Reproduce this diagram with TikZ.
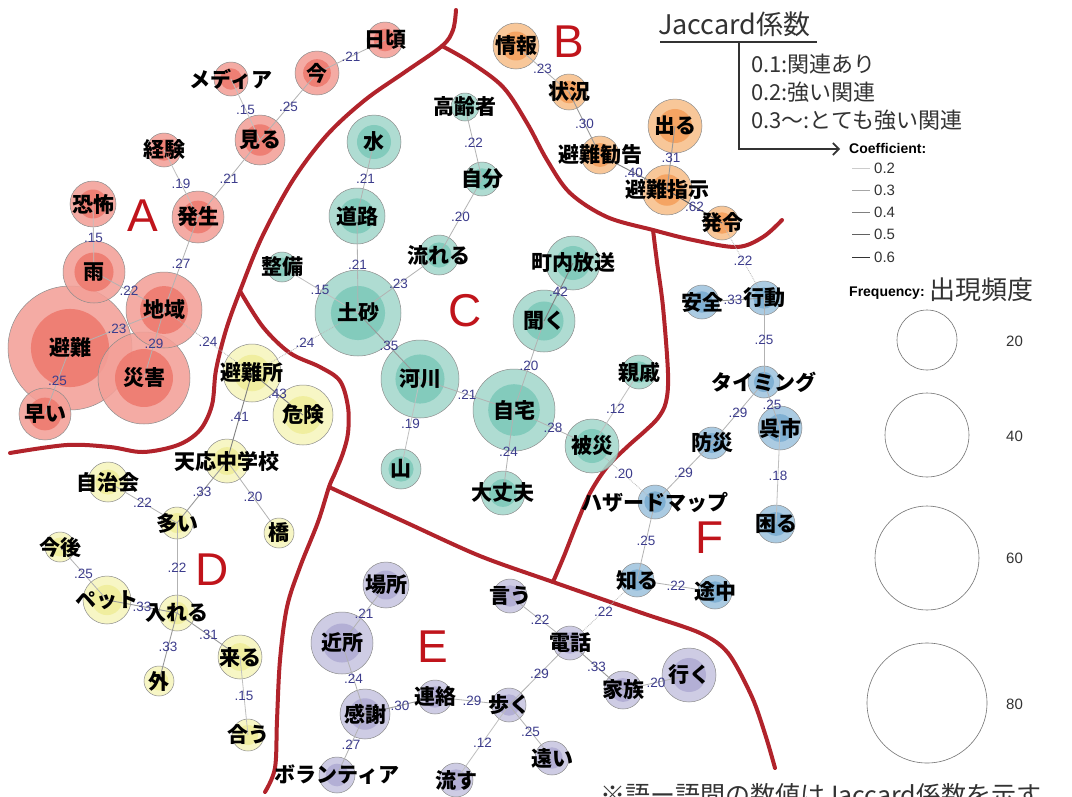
\documentclass[tikz,border=0pt]{standalone}
\usepackage{fontspec}
\setmainfont{Noto Sans CJK JP}
\newfontfamily\lsans{Liberation Sans}
\usetikzlibrary{arrows.meta}
\pgfdeclarelayer{fg}
\pgfsetlayers{main,fg}
\definecolor{Ao}{HTML}{F3A098}\definecolor{Ai}{HTML}{EE7A6E}
\definecolor{Bo}{HTML}{F8C08C}\definecolor{Bi}{HTML}{F5A05C}
\definecolor{Co}{HTML}{A4D8CC}\definecolor{Ci}{HTML}{7DC9BA}
\definecolor{Do}{HTML}{F6F5BE}\definecolor{Di}{HTML}{F0EE9A}
\definecolor{Eo}{HTML}{C8C6E1}\definecolor{Ei}{HTML}{B0ACD4}
\definecolor{Fo}{HTML}{A0C4DE}\definecolor{Fi}{HTML}{7BADD1}
\definecolor{bound}{HTML}{B1232B}
\definecolor{clet}{HTML}{C0141B}
\definecolor{elc}{HTML}{3C3C8C}
\definecolor{dk}{HTML}{333333}
\tikzset{
  bubble/.style={circle, draw=black!45, line width=0.5pt, fill=#1o, fill opacity=0.88, inner sep=0pt},
  wlab/.style={font=\fontsize{21}{21}\selectfont\bfseries, inner sep=0pt, text=black},
  el/.style={font=\lsans\fontsize{13.5}{13.5}\selectfont, text=elc, inner sep=0pt},
  wa/.style={draw=black!25, line width=0.8pt},
  wb/.style={draw=black!30, line width=0.8pt},
  wc/.style={draw=black!40, line width=0.9pt},
  wd/.style={draw=black!50, line width=0.9pt},
  wf/.style={draw=black!64, line width=1pt},
  wx/.style={draw=black!28, line width=0.8pt, densely dotted},
  bnd/.style={draw=bound, line width=4pt, line cap=round, line join=round},
  clusterlet/.style={font=\lsans\fontsize{46}{46}\selectfont, text=clet, inner sep=0pt},
  legtxt/.style={font=\fontsize{22}{22}\selectfont, text=dk, inner sep=0pt, anchor=west},
  legsmall/.style={font=\lsans\fontsize{15}{15}\selectfont, text=dk, inner sep=0pt, anchor=west},
  legbold/.style={font=\lsans\bfseries\fontsize{14}{14}\selectfont, text=black, inner sep=0pt, anchor=west},
  freqc/.style={circle, draw=black!55, line width=0.6pt, inner sep=0pt},
}
\newcommand\bub[6]{%
  \node[bubble=#5, minimum size={2*#4pt},
        path picture={\fill[#5i] (path picture bounding box.center) circle[radius={0.63*#4pt}];}]
        (#1) at (#2,#3) {};
  \begin{pgfonlayer}{fg}\node[wlab] (#1t) at (#2,#3) {#6};\end{pgfonlayer}}
\newcommand\ed[4]{\draw[#1] (#2.center) -- node[el]{#4} (#3.center);}
\begin{document}
\begin{tikzpicture}[x=1pt,y=-1pt]
\path[use as bounding box, fill=white] (0,0) rectangle (1072,796);

% ---------- boundaries ----------
\coordinate (j1) at (442,46);
\coordinate (j2) at (240,291);
\coordinate (j3) at (653,230);
\coordinate (j4) at (329,487);
\coordinate (j5) at (553,582);
\draw[bnd] plot[smooth, tension=0.55] coordinates {(10,453) (67,445) (110,447) (143,452) (178,445) (200,430) (212,405) (216,370) (226,330) (j2) (262,237) (293,180) (327,135) (365,100) (405,72) (j1) (453,30) (456,10)};
\draw[bnd] plot[smooth, tension=0.55] coordinates {(j1) (470,62) (503,87) (527,123) (547,160) (570,193) (607,217) (j3) (693,240) (737,247) (763,237) (782,220)};
\draw[bnd] plot[smooth, tension=0.55] coordinates {(j3) (657,262) (663,307) (668,373) (666,402) (658,418) (645,431) (627,447) (607,467) (590,493) (577,523) (564,556) (j5)};
\draw[bnd] plot[smooth, tension=0.55] coordinates {(j2) (263,327) (290,353) (320,367) (340,381) (348,407) (348,433) (343,453) (335,473) (j4) (318,522) (300,567) (287,607) (280,660) (277,720) (275,768) (265,792)};
\draw[bnd] plot[smooth, tension=0.5] coordinates {(j4) (405,522) (480,556) (j5) (642,613) (700,633) (728,653) (752,697) (766,737) (775,768)};

% ---------- cluster letters ----------
\node[clusterlet] (LA) at (143,216) {A};
\node[clusterlet] (LB) at (569,42) {B};
\node[clusterlet] (LC) at (465,311) {C};
\node[clusterlet] (LD) at (212,570) {D};
\node[clusterlet] (LE) at (433,647) {E};
\node[clusterlet] (LF) at (710,538) {F};

% ---------- cluster A ----------
\bub{a10}{70}{348}{62}{A}{避難}
\bub{a11}{144}{378}{46}{A}{災害}
\bub{a9}{164}{310}{38}{A}{地域}
\bub{a8}{94}{272}{31}{A}{雨}
\bub{a12}{45}{414}{26}{A}{早い}
\bub{a1}{385}{40}{18}{A}{日頃}
\bub{a2}{317}{73}{22}{A}{今}
\bub{a3}{231}{79}{17}{A}{メディア}
\bub{a4}{260}{140}{25}{A}{見る}
\bub{a5}{164}{150}{17}{A}{経験}
\bub{a6}{198}{217}{26}{A}{発生}
\bub{a7}{93}{204}{23}{A}{恐怖}

% ---------- cluster B ----------
\bub{b1}{516}{46}{23}{B}{情報}
\bub{b2}{569}{92}{18}{B}{状況}
\bub{b3}{600}{155}{19}{B}{避難勧告}
\bub{b4}{675}{126}{27}{B}{出る}
\bub{b5}{667}{190}{25}{B}{避難指示}
\bub{b6}{722}{223}{17}{B}{発令}

% ---------- cluster C ----------
\bub{c1}{374}{142}{27}{C}{水}
\bub{c2}{357}{216}{28}{C}{道路}
\bub{c3}{465}{107}{14}{C}{高齢者}
\bub{c4}{482}{179}{17}{C}{自分}
\bub{c5}{439}{255}{20}{C}{流れる}
\bub{c6}{282}{267}{15}{C}{整備}
\bub{c7}{358}{313}{43}{C}{土砂}
\bub{c8}{573}{263}{27}{C}{町内放送}
\bub{c9}{544}{321}{31}{C}{聞く}
\bub{c10}{420}{379}{39}{C}{河川}
\bub{c11}{514}{410}{41}{C}{自宅}
\bub{c12}{639}{372}{17}{C}{親戚}
\bub{c13}{592}{446}{27}{C}{被災}
\bub{c14}{401}{469}{20}{C}{山}
\bub{c15}{503}{493}{22}{C}{大丈夫}

% ---------- cluster D ----------
\bub{d1}{252}{373}{29}{D}{避難所}
\bub{d2}{303}{415}{30}{D}{危険}
\bub{d3}{227}{461}{22}{D}{天応中学校}
\bub{d4}{108}{482}{20}{D}{自治会}
\bub{d5}{177}{523}{16}{D}{多い}
\bub{d6}{279}{533}{15}{D}{橋}
\bub{d7}{60}{547}{15}{D}{今後}
\bub{d8}{107}{600}{24}{D}{ペット}
\bub{d9}{177}{613}{18}{D}{入れる}
\bub{d10}{159}{681}{15}{D}{外}
\bub{d11}{240}{657}{22}{D}{来る}
\bub{d12}{248}{735}{16}{D}{合う}

% ---------- cluster E ----------
\bub{e1}{386}{585}{23}{E}{場所}
\bub{e2}{342}{643}{31}{E}{近所}
\bub{e3}{365}{714}{25}{E}{感謝}
\bub{e4}{337}{775}{18}{E}{ボランティア}
\bub{e5}{435}{697}{17}{E}{連絡}
\bub{e6}{510}{596}{17}{E}{言う}
\bub{e7}{570}{643}{17}{E}{電話}
\bub{e8}{509}{705}{17}{E}{歩く}
\bub{e9}{623}{690}{19}{E}{家族}
\bub{e10}{689}{675}{27}{E}{行く}
\bub{e11}{552}{758}{17}{E}{遠い}
\bub{e12}{456}{780}{17}{E}{流す}

% ---------- cluster F ----------
\bub{f1}{702}{302}{17}{F}{安全}
\bub{f2}{764}{298}{17}{F}{行動}
\bub{f3}{764}{382}{16}{F}{タイミング}
\bub{f4}{780}{428}{22}{F}{呉市}
\bub{f5}{712}{443}{16}{F}{防災}
\bub{f6}{655}{502}{17}{F}{ハザードマップ}
\bub{f7}{776}{524}{19}{F}{困る}
\bub{f8}{637}{580}{17}{F}{知る}
\bub{f9}{715}{592}{17}{F}{途中}

% ---------- edges ----------
\ed{wb}{a1}{a2}{.21}
\ed{wb}{a2}{a4}{.25}
\ed{wa}{a3}{a4}{.15}
\ed{wa}{a5}{a6}{.19}
\ed{wb}{a4}{a6}{.21}
\ed{wa}{a7}{a8}{.15}
\ed{wb}{a6}{a9}{.27}
\ed{wb}{a8}{a9}{.22}
\ed{wb}{a10}{a9}{.23}
\ed{wb}{a9}{a11}{.29}
\ed{wb}{a10}{a12}{.25}
\ed{wx}{a9}{d1}{.24}

\ed{wb}{b1}{b2}{.23}
\ed{wc}{b2}{b3}{.30}
\ed{wd}{b3}{b5}{.40}
\ed{wc}{b4}{b5}{.31}
\ed{wf}{b5}{b6}{.62}
\ed{wx}{b6}{f2}{.22}

\ed{wb}{c1}{c2}{.21}
\ed{wb}{c2}{c7}{.21}
\ed{wa}{c6}{c7}{.15}
\ed{wb}{c5}{c7}{.23}
\ed{wb}{c4}{c5}{.20}
\ed{wb}{c3}{c4}{.22}
\ed{wc}{c7}{c10}{.35}
\ed{wx}{c7}{d1}{.24}
\ed{wa}{c10}{c14}{.19}
\ed{wb}{c10}{c11}{.21}
\ed{wd}{c8}{c9}{.42}
\ed{wb}{c9}{c11}{.20}
\ed{wb}{c11}{c13}{.28}
\ed{wb}{c11}{c15}{.24}
\ed{wa}{c12}{c13}{.12}
\ed{wx}{c13}{f6}{.20}

\ed{wd}{d1}{d2}{.43}
\ed{wd}{d1}{d3}{.41}
\ed{wc}{d3}{d5}{.33}
\ed{wb}{d3}{d6}{.20}
\ed{wb}{d4}{d5}{.22}
\ed{wb}{d5}{d9}{.22}
\ed{wb}{d7}{d8}{.25}
\ed{wc}{d8}{d9}{.33}
\ed{wc}{d9}{d10}{.33}
\ed{wc}{d9}{d11}{.31}
\ed{wa}{d11}{d12}{.15}

\ed{wb}{e1}{e2}{.21}
\ed{wb}{e2}{e3}{.24}
\ed{wc}{e3}{e5}{.30}
\ed{wb}{e3}{e4}{.27}
\ed{wb}{e5}{e8}{.29}
\ed{wb}{e8}{e7}{.29}
\ed{wb}{e6}{e7}{.22}
\ed{wc}{e7}{e9}{.33}
\ed{wb}{e9}{e10}{.20}
\ed{wb}{e8}{e11}{.25}
\ed{wa}{e8}{e12}{.12}
\ed{wx}{e7}{f8}{.22}

\ed{wc}{f1}{f2}{.33}
\ed{wb}{f2}{f3}{.25}
\ed{wb}{f3}{f4}{.25}
\ed{wb}{f3}{f5}{.29}
\ed{wb}{f5}{f6}{.29}
\ed{wb}{f6}{f8}{.25}
\ed{wb}{f8}{f9}{.22}
\ed{wa}{f4}{f7}{.18}

% ---------- legend ----------
\node[anchor=west, inner sep=0pt, font=\fontsize{27}{27}\selectfont, text=dk] (jt) at (658,24) {Jaccard係数};
\coordinate (ul1) at (660,42);
\coordinate (ul2) at (817,42);
\coordinate (brk) at (739,42);
\coordinate (arr) at (840,149);
\draw[dk, line width=1.6pt] (ul1) -- (ul2);
\draw[dk, line width=1.6pt, -{Straight Barb[length=6pt,width=12pt,line width=1.6pt]}] (brk) |- (arr);
\node[legtxt] (l1) at (751,64) {0.1:関連あり};
\node[legtxt] (l2) at (751,92) {0.2:強い関連};
\node[legtxt] (l3) at (751,120) {0.3～:とても強い関連};

\node[legbold] (coef) at (849,148) {Coefficient:};
\coordinate (k2a) at (852,168); \coordinate (k2b) at (870,168);
\coordinate (k3a) at (852,190); \coordinate (k3b) at (870,190);
\coordinate (k4a) at (852,212); \coordinate (k4b) at (870,212);
\coordinate (k5a) at (852,234); \coordinate (k5b) at (870,234);
\coordinate (k6a) at (852,257); \coordinate (k6b) at (870,257);
\draw[draw=black!20, line width=1pt] (k2a) -- (k2b);
\draw[draw=black!35, line width=1pt] (k3a) -- (k3b);
\draw[draw=black!50, line width=1pt] (k4a) -- (k4b);
\draw[draw=black!62, line width=1pt] (k5a) -- (k5b);
\draw[draw=black!80, line width=1pt] (k6a) -- (k6b);
\node[legsmall] (t2) at (874,168) {0.2};
\node[legsmall] (t3) at (874,190) {0.3};
\node[legsmall] (t4) at (874,212) {0.4};
\node[legsmall] (t5) at (874,234) {0.5};
\node[legsmall] (t6) at (874,257) {0.6};

\node[legbold] (freq) at (849,293) {Frequency:};
\node[anchor=west, inner sep=0pt, font=\fontsize{26}{26}\selectfont, text=dk] (fq) at (929,290) {出現頻度};
\node[freqc, minimum size=60pt] (q20) at (927,340) {};
\node[freqc, minimum size=84pt] (q40) at (927,435) {};
\node[freqc, minimum size=104pt] (q60) at (927,558) {};
\node[freqc, minimum size=120pt] (q80) at (927,703) {};
\node[legsmall] (n20) at (1006,341) {20};
\node[legsmall] (n40) at (1006,436) {40};
\node[legsmall] (n60) at (1006,558) {60};
\node[legsmall] (n80) at (1006,704) {80};

\node[anchor=base west, inner sep=0pt, font=\fontsize{25}{25}\selectfont, text=dk] (note) at (600,804) {※語ー語間の数値はJaccard係数を示す};
\end{tikzpicture}
\end{document}
